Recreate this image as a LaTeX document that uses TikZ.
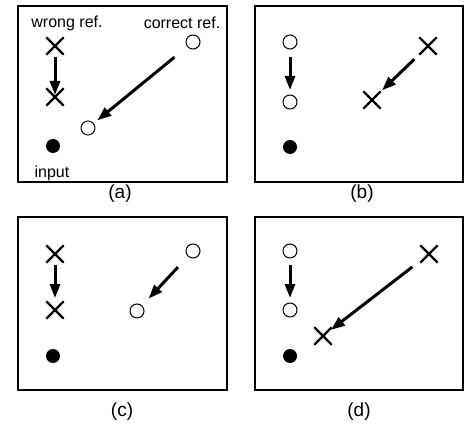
\documentclass[tikz,border=0pt]{standalone}
\usepackage{fontspec}
\setmainfont{Liberation Sans}
\usetikzlibrary{shapes.misc,arrows.meta}

\tikzset{
  frame/.style={draw, line width=1.2pt},
  refx/.style={cross out, draw, line width=2.3pt, minimum size=15pt, inner sep=0pt},
  refo/.style={circle, draw, line width=1pt, minimum size=14pt, inner sep=0pt},
  inpt/.style={circle, fill, minimum size=14pt, inner sep=0pt},
  move/.style={-{Triangle[length=14pt,width=10pt]}, line width=3pt},
  lbl/.style={font=\fontsize{16}{18}\selectfont, anchor=base},
  panelcap/.style={font=\fontsize{19}{21}\selectfont},
}

\begin{document}
\begin{tikzpicture}[x=1pt,y=-1pt]
  \useasboundingbox (0,0) rectangle (465,427);
  % frames
  \draw[frame] (18,6) rectangle (227,182);
  \draw[frame] (255,6) rectangle (463,182);
  \draw[frame] (18,217) rectangle (227,390);
  \draw[frame] (255,217) rectangle (463,390);
  % (a)
  \node[lbl] (atw) at (67,28) {wrong ref.};
  \node[lbl] (atc) at (182,29) {correct ref.};
  \node[lbl] (ati) at (52,178) {input};
  \node[refx] (aw1) at (55,46) {};
  \node[refx] (aw2) at (55,97) {};
  \node[refo] (ac1) at (193,42) {};
  \node[refo] (ac2) at (88,128) {};
  \node[inpt] (ain) at (53,146) {};
  \draw[move, shorten <=11pt, shorten >=2pt] (aw1.center) -- (aw2.center);
  \draw[move, shorten <=24pt, shorten >=12pt] (ac1.center) -- (ac2.center);
  \node[panelcap] (capa) at (120,194) {(a)};
  % (b)
  \node[refo] (bo1) at (290,42) {};
  \node[refo] (bo2) at (290,102) {};
  \node[inpt] (bin) at (290,147) {};
  \node[refx] (bx1) at (428,46) {};
  \node[refx] (bx2) at (372,100) {};
  \draw[move, shorten <=15pt, shorten >=12pt] (bo1.center) -- (bo2.center);
  \draw[move, shorten <=19pt, shorten >=14pt] (bx1.center) -- (bx2.center);
  \node[panelcap] (capb) at (362,194) {(b)};
  % (c)
  \node[refx] (cw1) at (55,254) {};
  \node[refx] (cw2) at (55,310) {};
  \node[refo] (cc1) at (193,251) {};
  \node[refo] (cc2) at (137,311) {};
  \node[inpt] (cin) at (53,356) {};
  \draw[move, shorten <=11pt, shorten >=12pt] (cw1.center) -- (cw2.center);
  \draw[move, shorten <=22pt, shorten >=17pt] (cc1.center) -- (cc2.center);
  \node[panelcap] (capc) at (122,412) {(c)};
  % (d)
  \node[refo] (do1) at (290,251) {};
  \node[refo] (do2) at (290,310) {};
  \node[inpt] (din) at (290,356) {};
  \node[refx] (dx1) at (429,254) {};
  \node[refx] (dx2) at (323,336) {};
  \draw[move, shorten <=14pt, shorten >=12pt] (do1.center) -- (do2.center);
  \draw[move, shorten <=21pt, shorten >=10pt] (dx1.center) -- (dx2.center);
  \node[panelcap] (capd) at (359,412) {(d)};
\end{tikzpicture}
\end{document}
